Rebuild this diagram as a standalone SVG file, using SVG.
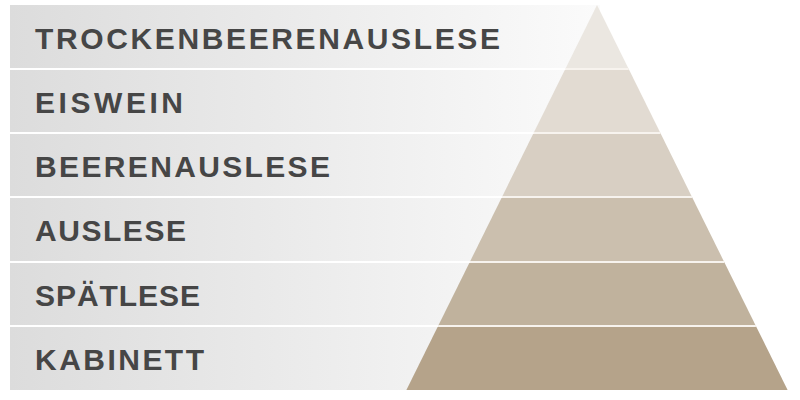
<svg xmlns="http://www.w3.org/2000/svg" width="800" height="400" viewBox="0 0 800 400">
  <defs>
    <linearGradient id="band" x1="0" y1="0" x2="1" y2="0">
      <stop offset="0" stop-color="#dcdcdc"/>
      <stop offset="1" stop-color="#fbfbfb"/>
    </linearGradient>
  </defs>
  <style>
    .lbl { font-family: "Liberation Sans", "DejaVu Sans", sans-serif; font-weight: bold; font-size: 30px; fill: #464646; }
    .sep { stroke: #ffffff; stroke-width: 2; }
    .psep { stroke: #f7f3ee; stroke-width: 2; }
  </style>
  <rect x="0" y="0" width="800" height="400" fill="#ffffff"/>
  <rect x="10" y="5" width="590" height="385" fill="url(#band)"/>

  <g id="pyramid">
    <polygon id="layer-trocken" points="597,5 565.3,69 628.7,69" fill="#ebe7e1"/>
    <polygon id="layer-eiswein" points="565.3,69 533.6,133 660.4,133 628.7,69" fill="#e2dbd2"/>
    <polygon id="layer-beeren" points="533.6,133 502,197 692,197 660.4,133" fill="#d8cfc3"/>
    <polygon id="layer-auslese" points="502,197 469.8,262 724.2,262 692,197" fill="#cbbfae"/>
    <polygon id="layer-spaet" points="469.8,262 438.1,326 755.9,326 724.2,262" fill="#c0b29d"/>
    <polygon id="layer-kabinett" points="438.1,326 406.4,390 787.6,390 755.9,326" fill="#b5a38a"/>
  </g>

  <g id="connectors">
    <line class="sep" x1="10" y1="69" x2="566" y2="69"/>
    <line class="sep" x1="10" y1="133" x2="534" y2="133"/>
    <line class="sep" x1="10" y1="197" x2="502" y2="197"/>
    <line class="sep" x1="10" y1="262" x2="470" y2="262"/>
    <line class="sep" x1="10" y1="326" x2="438" y2="326"/>
    <line class="psep" x1="565.3" y1="69" x2="628.7" y2="69"/>
    <line class="psep" x1="533.6" y1="133" x2="660.4" y2="133"/>
    <line class="psep" x1="502" y1="197" x2="692" y2="197"/>
    <line class="psep" x1="469.8" y1="262" x2="724.2" y2="262"/>
    <line class="psep" x1="438.1" y1="326" x2="755.9" y2="326"/>
  </g>

  <g id="node-trockenbeerenauslese"><text class="lbl" x="35" y="49" textLength="465" lengthAdjust="spacing">TROCKENBEERENAUSLESE</text></g>
  <g id="node-eiswein"><text class="lbl" x="35" y="113" textLength="148" lengthAdjust="spacing">EISWEIN</text></g>
  <g id="node-beerenauslese"><text class="lbl" x="35" y="177" textLength="295" lengthAdjust="spacing">BEERENAUSLESE</text></g>
  <g id="node-auslese"><text class="lbl" x="35" y="241" textLength="151" lengthAdjust="spacing">AUSLESE</text></g>
  <g id="node-spaetlese"><text class="lbl" x="35" y="306" textLength="165" lengthAdjust="spacing">SPÄTLESE</text></g>
  <g id="node-kabinett"><text class="lbl" x="35" y="370" textLength="169" lengthAdjust="spacing">KABINETT</text></g>
</svg>
